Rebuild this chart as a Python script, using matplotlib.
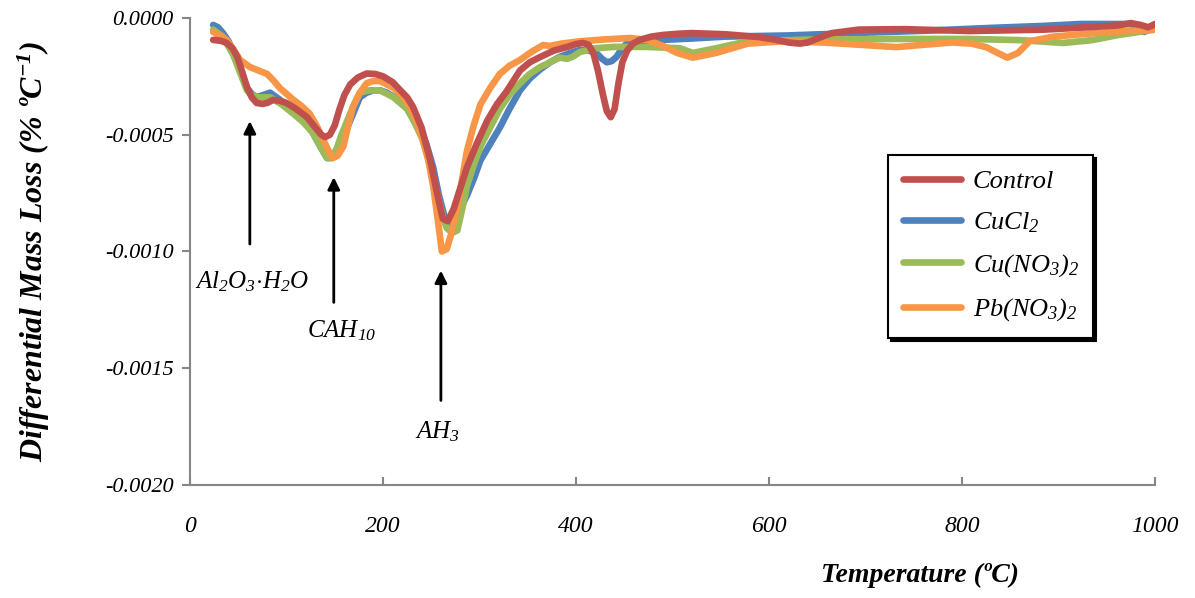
import matplotlib
matplotlib.use("agg")
import numpy as np
import matplotlib.pyplot as plt

plt.rcParams['font.family'] = ['Liberation Serif', 'DejaVu Serif']
plt.rcParams['mathtext.fontset'] = 'custom'
plt.rcParams['mathtext.it'] = 'Liberation Serif:italic'
plt.rcParams['mathtext.rm'] = 'Liberation Serif:italic'
plt.rcParams['mathtext.bf'] = 'Liberation Serif:italic:bold'
plt.rcParams['mathtext.default'] = 'it'

# data (temperature in C, DTG in % / C)
t_ctrl = [24, 32, 38, 44, 49, 54, 59, 64, 69, 75, 80, 86, 93, 100, 110, 121, 130, 136, 140, 145,
          150, 155, 160, 166, 174, 183, 192, 200, 210, 218, 225, 231, 240, 249, 256, 262, 267,
          273, 280, 287, 297, 308, 318, 328, 335, 342, 352, 363, 377, 391, 400, 407, 413, 418,
          423, 428, 432, 436, 440, 444, 448, 453, 459, 466, 478, 490, 505, 520, 555, 590, 605,
          620, 632, 640, 652, 665, 693, 740, 808, 885, 930, 962, 975, 985, 993, 1000]
y_ctrl = [-0.000094, -0.000098, -0.000107, -0.000130, -0.000167, -0.000230, -0.000296, -0.000340,
          -0.000364, -0.000368, -0.000364, -0.000351, -0.000355, -0.000364, -0.000390, -0.000424,
          -0.000470, -0.000500, -0.000510, -0.000500, -0.000460, -0.000390, -0.000330, -0.000285,
          -0.000255, -0.000238, -0.000240, -0.000250, -0.000275, -0.000310, -0.000340, -0.000380,
          -0.000470, -0.000610, -0.000750, -0.000860, -0.000870, -0.000820, -0.000730, -0.000640,
          -0.000540, -0.000440, -0.000370, -0.000315, -0.000270, -0.000225, -0.000190, -0.000167,
          -0.000140, -0.000124, -0.000112, -0.000107, -0.000115, -0.000150, -0.000230, -0.000330,
          -0.000400, -0.000425, -0.000390, -0.000280, -0.000190, -0.000140, -0.000110, -0.000094,
          -0.000080, -0.000073, -0.000068, -0.000065, -0.000070, -0.000082, -0.000092, -0.000105,
          -0.000110, -0.000105, -0.000085, -0.000065, -0.000050, -0.000048, -0.000056, -0.000050,
          -0.000040, -0.000032, -0.000022, -0.000030, -0.000040, -0.000026]

t_cucl = [24, 29, 34, 40, 45, 52, 59, 64, 69, 76, 83, 93, 102, 111, 119, 127, 135, 142, 147, 152,
          157, 163, 170, 176, 183, 190, 197, 204, 214, 225, 232, 238, 245, 252, 258, 265, 270,
          275, 281, 287, 294, 301, 311, 321, 331, 342, 352, 363, 373, 383, 394, 404, 413, 421,
          427, 432, 437, 442, 447, 453, 470, 490, 520, 555, 620, 693, 760, 828, 885, 923, 950,
          974, 982, 989, 995, 1000]
y_cucl = [-0.000030, -0.000040, -0.000064, -0.000100, -0.000150, -0.000225, -0.000300, -0.000325,
          -0.000340, -0.000330, -0.000320, -0.000350, -0.000380, -0.000410, -0.000445, -0.000490,
          -0.000550, -0.000600, -0.000600, -0.000580, -0.000530, -0.000470, -0.000400, -0.000340,
          -0.000320, -0.000310, -0.000310, -0.000320, -0.000345, -0.000380, -0.000420, -0.000470,
          -0.000540, -0.000640, -0.000760, -0.000870, -0.000880, -0.000850, -0.000810, -0.000760,
          -0.000690, -0.000610, -0.000540, -0.000470, -0.000390, -0.000310, -0.000260, -0.000220,
          -0.000190, -0.000167, -0.000150, -0.000137, -0.000140, -0.000150, -0.000175, -0.000190,
          -0.000185, -0.000167, -0.000135, -0.000107, -0.000098, -0.000094, -0.000088, -0.000080,
          -0.000075, -0.000064, -0.000055, -0.000043, -0.000034, -0.000026, -0.000026, -0.000026,
          -0.000035, -0.000060, -0.000045, -0.000040]

t_cuno = [24, 34, 45, 52, 59, 64, 69, 76, 83, 95, 107, 117, 127, 135, 142, 147, 152, 157, 163, 170,
          176, 186, 197, 211, 225, 233, 241, 249, 256, 262, 266, 272, 277, 282, 287, 294, 301,
          311, 321, 331, 342, 352, 363, 373, 383, 391, 397, 404, 420, 439, 473, 508, 521, 545,
          578, 650, 732, 808, 860, 905, 935, 962, 1000]
y_cuno = [-0.000050, -0.000080, -0.000160, -0.000235, -0.000310, -0.000330, -0.000340, -0.000340,
          -0.000340, -0.000370, -0.000410, -0.000445, -0.000490, -0.000550, -0.000600, -0.000595,
          -0.000560, -0.000500, -0.000440, -0.000370, -0.000320, -0.000310, -0.000310, -0.000340,
          -0.000390, -0.000450, -0.000520, -0.000630, -0.000750, -0.000850, -0.000900, -0.000920,
          -0.000910, -0.000820, -0.000720, -0.000630, -0.000550, -0.000470, -0.000390, -0.000330,
          -0.000280, -0.000240, -0.000210, -0.000190, -0.000170, -0.000175, -0.000165, -0.000146,
          -0.000130, -0.000124, -0.000124, -0.000130, -0.000150, -0.000130, -0.000100, -0.000092,
          -0.000090, -0.000090, -0.000095, -0.000107, -0.000095, -0.000073, -0.000050]

t_pbno = [24, 31, 38, 45, 52, 62, 71, 80, 87, 93, 100, 107, 115, 124, 131, 138, 143, 148, 153, 159,
          164, 169, 176, 183, 190, 197, 204, 211, 220, 228, 235, 241, 247, 252, 257, 261, 266,
          271, 277, 282, 287, 294, 301, 311, 321, 331, 342, 354, 366, 373, 385, 404, 430, 456,
          475, 490, 505, 521, 545, 578, 615, 655, 695, 732, 760, 790, 810, 825, 837, 847, 858,
          870, 895, 923, 960, 1000]
y_pbno = [-0.000060, -0.000075, -0.000094, -0.000135, -0.000180, -0.000210, -0.000225, -0.000240,
          -0.000270, -0.000300, -0.000325, -0.000350, -0.000375, -0.000410, -0.000460, -0.000520,
          -0.000565, -0.000600, -0.000590, -0.000550, -0.000460, -0.000380, -0.000320, -0.000280,
          -0.000270, -0.000270, -0.000285, -0.000300, -0.000335, -0.000380, -0.000445, -0.000520,
          -0.000610, -0.000720, -0.000870, -0.001000, -0.000990, -0.000920, -0.000810, -0.000690,
          -0.000570, -0.000460, -0.000370, -0.000300, -0.000240, -0.000205, -0.000180, -0.000145,
          -0.000116, -0.000120, -0.000110, -0.000100, -0.000092, -0.000086, -0.000095, -0.000120,
          -0.000150, -0.000170, -0.000150, -0.000110, -0.000100, -0.000105, -0.000115, -0.000125,
          -0.000115, -0.000105, -0.000110, -0.000125, -0.000150, -0.000170, -0.000150, -0.000100,
          -0.000080, -0.000070, -0.000058, -0.000050]

fig = plt.figure(figsize=(11.95, 5.98), dpi=100)
ax = fig.add_axes([0.159, 0.189, 0.8075, 0.781])

lw = 4.8
kw = dict(lw=lw, solid_joinstyle='round', solid_capstyle='round')
ax.plot(t_cucl, y_cucl, color='#4F81BD', label=r'$CuCl_2$', **kw)
ax.plot(t_cuno, y_cuno, color='#9BBB59', label=r'$Cu(NO_3)_2$', **kw)
ax.plot(t_pbno, y_pbno, color='#F79646', label=r'$Pb(NO_3)_2$', **kw)
ax.plot(t_ctrl, y_ctrl, color='#C0504D', label='Control', **kw)

ax.set_xlim(0, 1000)
ax.set_ylim(-0.002, 0)
ax.set_xticks([0, 200, 400, 600, 800, 1000])
ax.set_yticks([0, -0.0005, -0.001, -0.0015, -0.002])
ax.set_yticklabels(['0.0000', '-0.0005', '-0.0010', '-0.0015', '-0.0020'])
for s in ['top', 'right']:
    ax.spines[s].set_visible(False)
for s in ['left', 'bottom']:
    ax.spines[s].set_color('#868686')
    ax.spines[s].set_linewidth(1.5)
ax.tick_params(axis='y', direction='out', length=6, width=1.5, color='#868686', labelsize=16, pad=6)
ax.tick_params(axis='x', direction='in', length=6, width=1.5, color='#868686', labelsize=17, pad=22)
for lab in ax.get_xticklabels() + ax.get_yticklabels():
    lab.set_fontstyle('italic')

ax.set_ylabel(r'Differential Mass Loss (% ºC$\mathbf{^{-1}}$)', fontsize=23, fontweight='bold',
              fontstyle='italic', labelpad=38)
fig.text(0.77, 0.038, 'Temperature (ºC)', fontsize=20, fontweight='bold', fontstyle='italic',
         ha='center', va='center')

# peak annotations
arw = dict(arrowstyle='-|>', color='black', lw=2, mutation_scale=18)
ax.annotate('', xy=(62, -0.00043), xytext=(62, -0.00098), arrowprops=arw)
ax.text(64, -0.00113, r'$Al_2O_3{\cdot}H_2O$', fontsize=18, ha='center', va='center')
ax.annotate('', xy=(149, -0.00067), xytext=(149, -0.00123), arrowprops=arw)
ax.text(157, -0.00134, r'$CAH_{10}$', fontsize=18, ha='center', va='center')
ax.annotate('', xy=(260, -0.00107), xytext=(260, -0.00165), arrowprops=arw)
ax.text(256, -0.00177, r'$AH_3$', fontsize=18, ha='center', va='center')

h, l = ax.get_legend_handles_labels()
order = [3, 0, 1, 2]
leg = ax.legend([h[i] for i in order], [l[i] for i in order], loc='upper left',
                bbox_to_anchor=(0.7235, 0.707), frameon=True, fancybox=False,
                edgecolor='black', handlelength=2.2, handletextpad=0.45, labelspacing=0.66,
                borderpad=0.55, borderaxespad=0, prop={'style': 'italic', 'size': 19},
                shadow={'color': 'black', 'alpha': 1})
leg.get_frame().set_linewidth(1.5)

fig.savefig('out.png', dpi=100)
